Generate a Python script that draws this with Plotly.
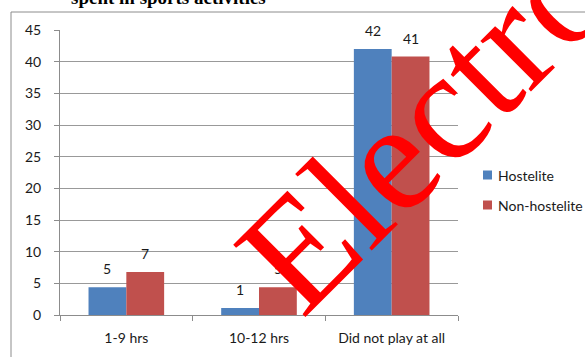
import plotly.graph_objects as go

categories = ["1-9 hrs", "10-12 hrs", "Did not play at all"]
hostelite = [4.4, 1.1, 42.0]
non_hostelite = [6.8, 4.4, 40.8]
hostelite_labels = ["5", "1", "42"]
non_hostelite_labels = ["7", "5", "41"]
series_names = ["Hostelite", "Non-hostelite"]
series_colors = ["#4F81BD", "#C0504D"]
y_ticks = [0, 5, 10, 15, 20, 25, 30, 35, 40, 45]

W, H = 585, 357
L, R, T, B = 60, 127, 30, 42
pw, ph = W - L - R, H - T - B

def px(x):
    return (x - L) / pw

def py(y):
    return (H - B - y) / ph

fig = go.Figure()
fig.add_trace(go.Bar(x=categories, y=hostelite, name=series_names[0],
                     marker=dict(color=series_colors[0], line=dict(width=0))))
fig.add_trace(go.Bar(x=categories, y=non_hostelite, name=series_names[1],
                     marker=dict(color=series_colors[1], line=dict(width=0))))

label_font = dict(family="Lato, sans-serif", size=14, color="#1a1a1a")
for cat, v, t in zip(categories, hostelite, hostelite_labels):
    fig.add_annotation(x=cat, y=v, text=t, showarrow=False, xshift=-19, yshift=8,
                       yanchor="bottom", font=label_font)
for cat, v, t in zip(categories, non_hostelite, non_hostelite_labels):
    fig.add_annotation(x=cat, y=v, text=t, showarrow=False, xshift=19, yshift=8,
                       yanchor="bottom", font=label_font)

# manual legend
for i, (name, col) in enumerate(zip(series_names, series_colors)):
    cy = 175 + 30 * i
    fig.add_shape(type="rect", xref="paper", yref="paper", x0=px(483), x1=px(492),
                  y0=py(cy + 4.5), y1=py(cy - 4.5), line=dict(width=0), fillcolor=col)
    fig.add_annotation(xref="paper", yref="paper", x=px(496), y=py(cy), text=name,
                       showarrow=False, xanchor="left", yanchor="middle", font=label_font)

# cut-off title at top
fig.add_annotation(xref="paper", yref="paper", x=px(168), y=py(10), text="<b>spent in sports activities</b>",
                   showarrow=False, yanchor="bottom", xanchor="center",
                   font=dict(family="Liberation Serif, serif", size=19, color="#000"))

# watermark
fig.add_annotation(xref="paper", yref="paper", x=px(423.5), y=py(124), text="Electro",
                   showarrow=False, textangle=-45, xanchor="center", yanchor="middle",
                   font=dict(family="Liberation Serif, serif", size=156, color="#FF0000"))

# outer frame
fig.add_shape(type="rect", xref="paper", yref="paper", x0=px(11), x1=px(700), y0=py(500), y1=py(12),
              line=dict(color="#8c8c8c", width=1), layer="below")

fig.update_layout(
    width=W, height=H,
    margin=dict(l=L, r=R, t=T, b=B),
    paper_bgcolor="white", plot_bgcolor="white",
    barmode="group", bargap=0.43, bargroupgap=0,
    showlegend=False,
    font=dict(family="Lato, sans-serif", size=13, color="#1a1a1a"),
)
fig.update_xaxes(type="category", showgrid=False, showline=True, linecolor="#8c8c8c", linewidth=1,
                 ticks="outside", tickson="boundaries", ticklen=5, tickcolor="#8c8c8c",
                 ticklabelstandoff=10, tickfont=dict(size=14))
fig.update_yaxes(range=[0, 45], tickvals=y_ticks, showgrid=True, gridcolor="#999999", gridwidth=1,
                 showline=True, linecolor="#8c8c8c", linewidth=1, ticks="outside", ticklen=5,
                 tickcolor="#8c8c8c", ticklabelstandoff=10, zeroline=False, tickfont=dict(size=14))

fig.write_html("out.html")
